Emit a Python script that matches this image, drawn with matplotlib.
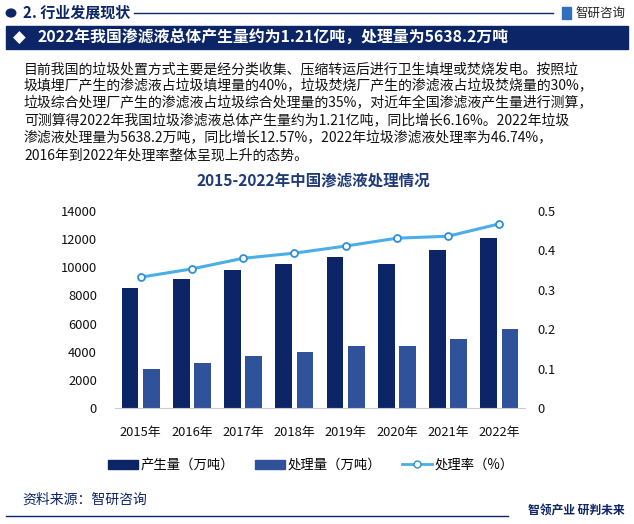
import matplotlib
matplotlib.use('Agg')
import matplotlib.pyplot as plt
import matplotlib.patches as mpatches
from matplotlib.lines import Line2D
import numpy as np

plt.rcParams['font.family'] = ['Noto Sans CJK SC', 'DejaVu Sans']

# 数据
years = ['2015年', '2016年', '2017年', '2018年', '2019年', '2020年', '2021年', '2022年']
produced = [8510, 9170, 9810, 10240, 10730, 10240, 11230, 12063]
processed = [2800, 3220, 3710, 4000, 4420, 4420, 4920, 5638.2]
rate = [0.332, 0.353, 0.380, 0.393, 0.411, 0.431, 0.436, 0.4674]
left_ticks = [0, 2000, 4000, 6000, 8000, 10000, 12000, 14000]
right_ticks = [0, 0.1, 0.2, 0.3, 0.4, 0.5]
right_labels = ['0', '0.1', '0.2', '0.3', '0.4', '0.5']

paragraph = [
    '目前我国的垃圾处置方式主要是经分类收集、压缩转运后进行卫生填埋或焚烧发电。按照垃',
    '圾填埋厂产生的渗滤液占垃圾填埋量的40%，垃圾焚烧厂产生的渗滤液占垃圾焚烧量的30%，',
    '垃圾综合处理厂产生的渗滤液占垃圾综合处理量的35%，对近年全国渗滤液产生量进行测算，',
    '可测算得2022年我国垃圾渗滤液总体产生量约为1.21亿吨，同比增长6.16%。2022年垃圾',
    '渗滤液处理量为5638.2万吨，同比增长12.57%，2022年垃圾渗滤液处理率为46.74%，',
    '2016年到2022年处理率整体呈现上升的态势。',
]

navy = '#0c2566'
mid_blue = '#30529a'
line_blue = '#4aaee8'

W, H = 634, 524
fig = plt.figure(figsize=(W / 100, H / 100), dpi=100)
fig.patch.set_facecolor('white')


def fx(px):
    return px / W


def fy(py):
    return 1 - py / H


# 顶部栏
fig.patches.append(mpatches.Circle((fx(11), fy(13)), 0.0075, transform=fig.transFigure,
                                   color=navy, zorder=3))
fig.text(fx(23), fy(13), '2. 行业发展现状', fontsize=10.8, fontweight='bold', color=navy,
         va='center', ha='left')
fig.add_artist(Line2D([fx(134), fx(553)], [fy(13), fy(13)], color=navy, lw=1))
fig.patches.append(mpatches.Rectangle((fx(562), fy(19)), fx(9), 12 / H, transform=fig.transFigure,
                                      color='#2f6fc0'))
fig.text(fx(575), fy(13), '智研咨询', fontsize=9, color='#222222', va='center', ha='left')

# 标题条
fig.patches.append(mpatches.Rectangle((fx(6), fy(49)), fx(622), 23 / H, transform=fig.transFigure,
                                      color=navy))
fig.text(fx(13), fy(37.5), '◆', fontsize=12, color='white', va='center', ha='left',
         family=['DejaVu Sans'])
fig.text(fx(38), fy(37.5), '2022年我国渗滤液总体产生量约为1.21亿吨，处理量为5638.2万吨',
         fontsize=11.4, fontweight='bold', color='white', va='center', ha='left')

# 正文
for i, line in enumerate(paragraph):
    fig.text(fx(24), fy(69 + i * 17.3), line, fontsize=10.0, color='#111111', va='center', ha='left')

# 图表标题
fig.text(fx(313), fy(181), '2015-2022年中国渗滤液处理情况', fontsize=11.2, fontweight='bold',
         color='#1f3a78', va='center', ha='center')

# 主图
ax = fig.add_axes([fx(115), fy(408), fx(525 - 115), (408 - 211) / H])
x = np.arange(len(years))
w = 0.33
ax.bar(x - 0.207, produced, width=w, color=navy, label='产生量（万吨）', zorder=2)
ax.bar(x + 0.207, processed, width=w, color=mid_blue, label='处理量（万吨）', zorder=2)
ax.set_ylim(0, 14000)
ax.set_xlim(-0.5, len(years) - 0.5)
ax.set_yticks(left_ticks)
ax.set_yticklabels([str(t) for t in left_ticks])
ax.set_xticks(x)
ax.set_xticklabels(years)
for s in ['top', 'left', 'right']:
    ax.spines[s].set_visible(False)
ax.spines['bottom'].set_color('#cccccc')
ax.tick_params(axis='both', length=0, labelsize=9.3, colors='#111111')
ax.tick_params(axis='x', pad=13)
ax.tick_params(axis='y', pad=13)
ax.patch.set_alpha(0)

ax2 = ax.twinx()
ax2.plot(x, rate, color=line_blue, lw=2.2, marker='o', markersize=5,
         markerfacecolor='white', markeredgecolor='#2f8fd6', markeredgewidth=1.3,
         label='处理率（%）', zorder=3)
ax2.set_ylim(0, 0.5)
ax2.set_yticks(right_ticks)
ax2.set_yticklabels(right_labels)
for s in ['top', 'left', 'right', 'bottom']:
    ax2.spines[s].set_visible(False)
ax2.tick_params(axis='y', length=0, labelsize=9.3, colors='#111111', pad=9)

# 图例
handles = [
    mpatches.Patch(color=navy, label='产生量（万吨）'),
    mpatches.Patch(color=mid_blue, label='处理量（万吨）'),
    Line2D([0], [0], color=line_blue, lw=2, marker='o', markersize=5,
           markerfacecolor='white', markeredgecolor='#2f8fd6', label='处理率（%）'),
]
fig.legend(handles=handles, loc='center', bbox_to_anchor=(fx(311), fy(465)), ncol=3,
           frameon=False, fontsize=9.6, handlelength=2.2, handleheight=0.7,
           columnspacing=1.6, handletextpad=0.2)

# 底部
fig.text(fx(22), fy(500), '资料来源：智研咨询', fontsize=10, color=navy, va='center', ha='left')
fig.add_artist(Line2D([fx(6), fx(508)], [fy(516), fy(516)], color=navy, lw=1))
fig.text(fx(625), fy(511), '智领产业 研判未来', fontsize=8.5, fontweight='bold', color=navy,
         va='center', ha='right')

fig.savefig('out.png', dpi=100)
